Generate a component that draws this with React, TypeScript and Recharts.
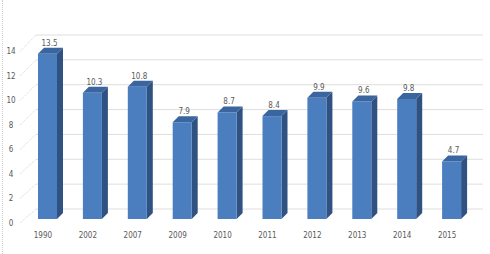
import { BarChart, Bar, XAxis, YAxis, CartesianGrid, LabelList } from "recharts";

const years = ["1990", "2002", "2007", "2009", "2010", "2011", "2012", "2013", "2014", "2015"];
const values = [13.5, 10.3, 10.8, 7.9, 8.7, 8.4, 9.9, 9.6, 9.8, 4.7];
const yTicks = [0, 2, 4, 6, 8, 10, 12, 14];

const data = years.map((year, i) => ({ year, value: values[i] }));

const FRONT = "#4a7ebf";
const SIDE = "#2f5283";
const TOP = "#3b659f";
const DEPTH = 6;
const TEXT = "#595959";
const FONT = "'DejaVu Sans Condensed', 'Liberation Sans Narrow', sans-serif";

const PLOT_BOTTOM = 219;
const PLOT_H = 171.5;

function Bar3D(props: any) {
  const { x, y, width, height } = props;
  if (height <= 0) return null;
  const d = DEPTH;
  return (
    <g>
      <polygon
        points={`${x + width},${y} ${x + width + d},${y - d} ${x + width + d},${y + height - d} ${x + width},${y + height}`}
        fill={SIDE}
      />
      <polygon
        points={`${x},${y} ${x + d},${y - d} ${x + width + d},${y - d} ${x + width},${y}`}
        fill={TOP}
      />
      <rect x={x} y={y} width={width} height={height} fill={FRONT} />
    </g>
  );
}

function GridLine(props: any) {
  const { y1 } = props;
  const frac = (PLOT_BOTTOM - y1) / PLOT_H;
  const back = y1 - 10 - 2.5 * frac;
  return (
    <g>
      <line x1={20} y1={y1 + 4} x2={36} y2={back} stroke="#d6d6d6" strokeDasharray="1 1" />
      <line x1={36} y1={back} x2={483} y2={back} stroke="#dedede" />
    </g>
  );
}

function YTick(props: any) {
  const { y, payload } = props;
  return (
    <text x={11} y={y + 4} textAnchor="middle" dominantBaseline="middle" fill={TEXT} fontSize={8} fontFamily={FONT}>
      {payload.value}
    </text>
  );
}

function XTick(props: any) {
  const { x, payload } = props;
  return (
    <text x={x - 4.5} y={235} textAnchor="middle" dominantBaseline="middle" fill={TEXT} fontSize={8} fontFamily={FONT}>
      {payload.value}
    </text>
  );
}

function ValueLabel(props: any) {
  const { x, y, width, value } = props;
  return (
    <text x={x + width / 2 + 2} y={y - 8} textAnchor="middle" fill={TEXT} fontSize={8} fontFamily={FONT}>
      {value}
    </text>
  );
}

export default function App() {
  return (
    <div style={{ position: "relative", width: 490, height: 254, background: "#fff" }}>
      <style>{`body{margin:0}`}</style>
      <div
        style={{
          position: "absolute",
          left: 2,
          top: 0,
          height: 254,
          borderLeft: "1px dotted #cfcfcf",
        }}
      />
      <BarChart
        width={490}
        height={254}
        data={data}
        margin={{ top: 47.5, right: 16, bottom: 0, left: 0 }}
        barCategoryGap={0}
      >
        <CartesianGrid vertical={false} horizontal={GridLine} />
        <YAxis
          width={25}
          domain={[0, 14]}
          ticks={yTicks}
          axisLine={false}
          tickLine={false}
          tick={YTick}
          interval={0}
        />
        <XAxis
          dataKey="year"
          height={35}
          axisLine={false}
          tickLine={false}
          tick={XTick}
          interval={0}
        />
        <Bar dataKey="value" barSize={19} shape={Bar3D} isAnimationActive={false}>
          <LabelList dataKey="value" content={ValueLabel} />
        </Bar>
      </BarChart>
    </div>
  );
}
